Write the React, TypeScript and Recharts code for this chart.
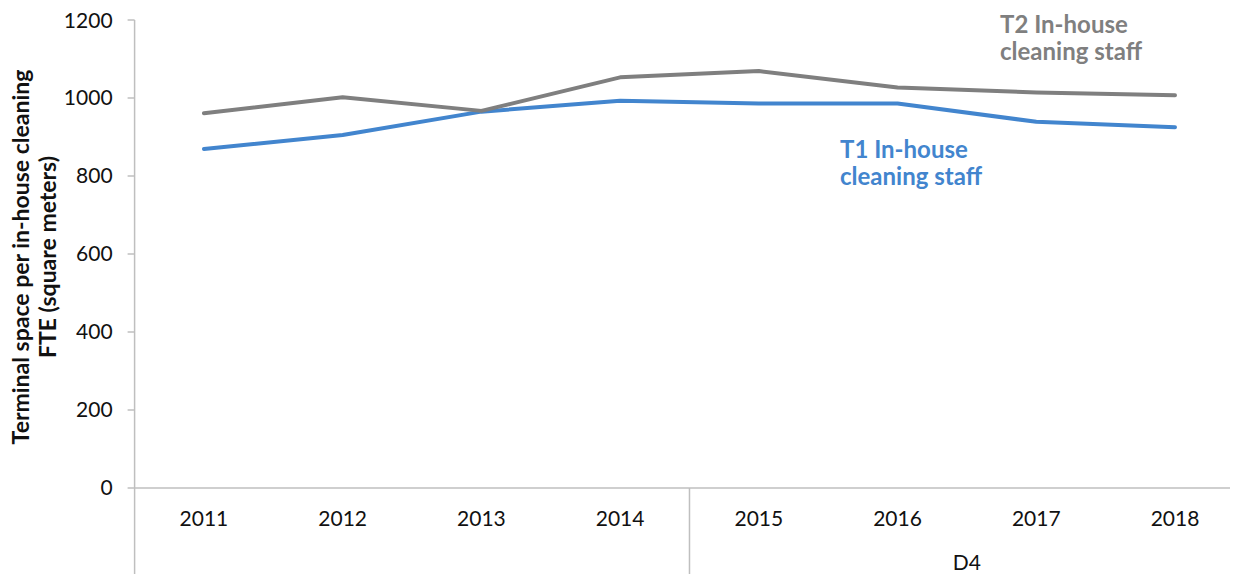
import { LineChart, Line, XAxis, YAxis } from "recharts";

const years = ["2011", "2012", "2013", "2014", "2015", "2016", "2017", "2018"];
const groups = ["", "", "", "", "D4", "D4", "D4", "D4"];
const t1Values = [869, 905, 965, 993, 986, 986, 939, 925];
const t2Values = [961, 1002, 967, 1053, 1069, 1027, 1014, 1007];
const yTicks = [0, 200, 400, 600, 800, 1000, 1200];

const data = years.map((year, i) => ({ year, t1: t1Values[i], t2: t2Values[i] }));

const FONT = "Lato, 'Open Sans', sans-serif";
const AXIS = "#bfbfbf";
const BLUE = "#4285ce";
const GRAY = "#7f7f7f";
const HALF_BAND = 69.35;

function YearTick(props: any) {
  const { x, y, index, payload } = props;
  const group = groups[index];
  const isGroupStart = index === 0 || group !== groups[index - 1];
  const groupSize = groups.filter((g) => g === group).length;
  return (
    <g>
      <text x={x} y={y + 38} textAnchor="middle" fontFamily={FONT} fontSize={21} fill="#111">
        {payload.value}
      </text>
      {isGroupStart && (
        <line x1={x - HALF_BAND} x2={x - HALF_BAND} y1={y} y2={y + 86} stroke={AXIS} strokeWidth={1.5} />
      )}
      {isGroupStart && group && (
        <text
          x={x + (groupSize - 1) * HALF_BAND}
          y={y + 82}
          textAnchor="middle"
          fontFamily={FONT}
          fontSize={21}
          fill="#111"
        >
          {group}
        </text>
      )}
    </g>
  );
}

export default function App() {
  return (
    <LineChart
      width={1230}
      height={566}
      data={data}
      margin={{ top: 12, right: 0, bottom: 0, left: 46.6 }}
    >
      <XAxis
        dataKey="year"
        interval={0}
        height={86}
        padding={{ left: HALF_BAND, right: 63 }}
        tickSize={0}
        tickMargin={0}
        tickLine={false}
        axisLine={{ stroke: AXIS, strokeWidth: 1.5 }}
        tick={<YearTick />}
      />
      <YAxis
        domain={[0, 1200]}
        ticks={yTicks}
        width={80}
        tickSize={7}
        tickMargin={15}
        axisLine={{ stroke: AXIS, strokeWidth: 1.5 }}
        tickLine={{ stroke: AXIS, strokeWidth: 1.5 }}
        tick={{ fontFamily: FONT, fontSize: 21, fill: "#111" }}
      />
      <Line
        dataKey="t1"
        stroke={BLUE}
        strokeWidth={4}
        strokeLinecap="round"
        strokeLinejoin="round"
        dot={false}
        activeDot={false}
        isAnimationActive={false}
      />
      <Line
        dataKey="t2"
        stroke={GRAY}
        strokeWidth={4}
        strokeLinecap="round"
        strokeLinejoin="round"
        dot={false}
        activeDot={false}
        isAnimationActive={false}
      />
      <g transform="translate(21, 249) rotate(-90)" fontFamily={FONT} fontSize={23} fontWeight="bold" fill="#111">
        <text x={0} y={0} textAnchor="middle">
          Terminal space per in-house cleaning
        </text>
        <text x={0} y={27} textAnchor="middle">
          FTE (square meters)
        </text>
      </g>
      <g fontFamily={FONT} fontSize={24} fontWeight="bold" fill={GRAY}>
        <text x={992} y={25}>T2 In-house</text>
        <text x={992} y={52}>cleaning staff</text>
      </g>
      <g fontFamily={FONT} fontSize={24} fontWeight="bold" fill={BLUE}>
        <text x={832} y={150}>T1 In-house</text>
        <text x={832} y={177}>cleaning staff</text>
      </g>
    </LineChart>
  );
}
